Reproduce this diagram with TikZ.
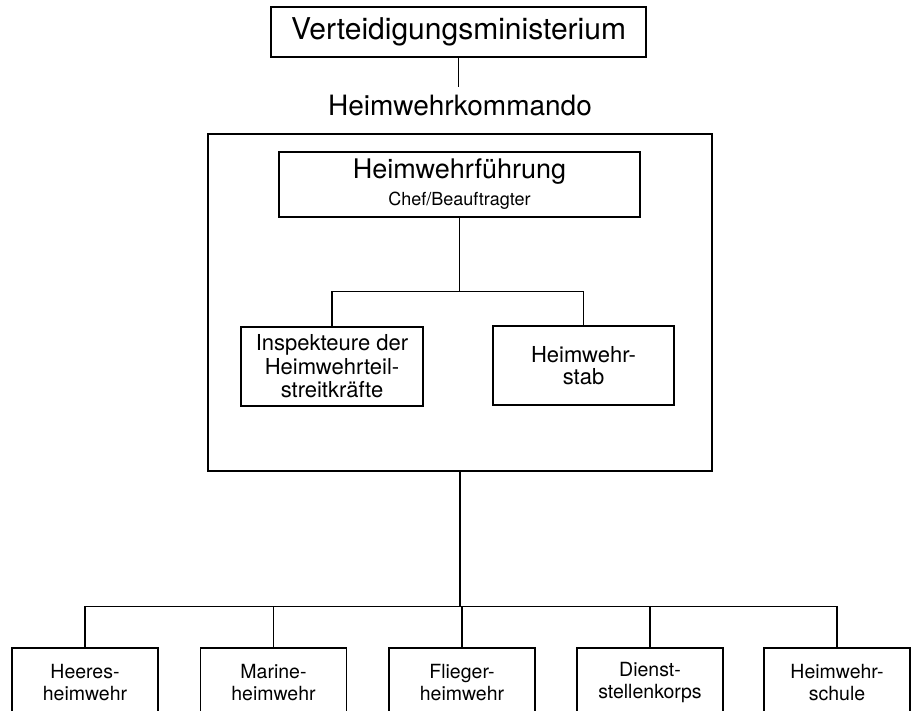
\documentclass[tikz,border=0pt]{standalone}
\usepackage{fontspec}
\setmainfont{TeX Gyre Heros}

\begin{document}
\begin{tikzpicture}[
    x=1pt, y=-1pt,
    box_style/.style={draw, line width=1.3pt, inner sep=0pt, align=center},
    line_style/.style={line width=1.3pt},
    unit_style/.style={box_style, minimum width=146pt, minimum height=69pt, font=\fontsize{19.5}{21.5}\selectfont}
]
    \useasboundingbox (0,0) rectangle (917,710);
    \clip (0,0) rectangle (917,710);

    % Ministry and command
    \node[box_style, minimum width=375pt, minimum height=50pt, font=\fontsize{30}{32}\selectfont] (ministry) at (458.5,32) {Verteidigungsministerium};
    \node[inner sep=0pt, outer ysep=8pt, font=\fontsize{28}{30}\selectfont] (kommando) at (460,105) {Heimwehrkommando};
    \draw[line_style] (ministry.south) -- (ministry.south |- kommando.north);

    % Command frame with its leadership
    \node[box_style, minimum width=504pt, minimum height=337pt] (frame) at (460,302.5) {};
    \node[box_style, minimum width=361pt, minimum height=65pt, font=\fontsize{27}{27}\selectfont] (lead) at (459.5,184.5) {Heimwehrführung\\{\fontsize{18}{27}\selectfont Chef/Beauftragter}};
    \node[box_style, minimum width=182pt, minimum height=79pt, font=\fontsize{22}{23.5}\selectfont] (insp) at (332,366.5) {Inspekteure der\\Heimwehrteil-\\streitkräfte};
    \node[box_style, minimum width=181pt, minimum height=79pt, font=\fontsize{22}{22}\selectfont] (staff) at (583.5,365.5) {Heimwehr-\\stab};

    \path (lead.south) ++(0,74) coordinate (fork_a);
    \draw[line_style] (lead.south) -- (fork_a);
    \draw[line_style] (insp.north) |- (fork_a) -| (staff.north);

    % Units
    \foreach \name/\x/\txt in {heer/85/{Heeres-\\heimwehr}, marine/273.5/{Marine-\\heimwehr}, flieger/462/{Flieger-\\heimwehr}, dienst/650/{Dienst-\\stellenkorps}, schule/837/{Heimwehr-\\schule}}
        \node[unit_style] (\name) at (\x,682.5) {\txt};

    \path (frame.south) ++(0,135) coordinate (fork_b);
    \draw[line_style] (frame.south) -- (fork_b);
    \foreach \name in {heer, marine, flieger, dienst, schule}
        \draw[line_style] (fork_b) -| (\name.north);

\end{tikzpicture}
\end{document}
